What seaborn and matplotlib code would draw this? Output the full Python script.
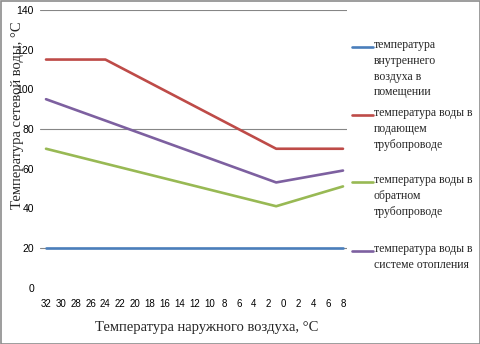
import matplotlib
matplotlib.use("Agg")
import matplotlib.pyplot as plt
from matplotlib.lines import Line2D
from matplotlib.patches import Rectangle
import seaborn as sns
import pandas as pd

# ---- data ----
outdoor_temp = [-32, -24, -1, 8]
indoor_air = [20, 20, 20, 20]
supply_water = [115, 115, 70, 70]
return_water = [70, 62.5, 41, 51]
system_water = [95, 84.2, 53, 59]

series_names = [
    "температура\nвнутреннего\nвоздуха в\nпомещении",
    "температура воды в\nподающем\nтрубопроводе",
    "температура воды в\nобратном\nтрубопроводе",
    "температура воды в\nсистеме отопления",
]
series_values = [indoor_air, supply_water, return_water, system_water]
colors = ["#4A7EBB", "#BE4B48", "#98B954", "#7D60A0"]

x_tick_values = list(range(-32, 9, 2))
x_tick_labels = [str(abs(v)) for v in x_tick_values]
x_minor_marks = [-26.3, -21.4, -19.3, -16.4, -14.4, -11.7, -9.7, -7.7, -6.8,
                 -4.5, -2.7, -2.0, -1.2, -0.4, 2.65, 3.5, 4.5, 5.35, 7.6, 8.5]
y_ticks = list(range(0, 141, 20))
y_grid = [20, 80, 140]

y_label = "Температура сетевой воды, °С"
x_label = "Температура наружного воздуха, °С"

rows = []
for name, vals in zip(series_names, series_values):
    for t, v in zip(outdoor_temp, vals):
        rows.append({"t": t, "v": v, "s": name})
df = pd.DataFrame(rows)

sns.set_style("white")
serif = ["Liberation Serif", "DejaVu Serif"]
sans = ["Liberation Sans", "DejaVu Sans"]
plt.rcParams["font.family"] = sans

fig = plt.figure(figsize=(4.8, 3.44), dpi=100)
W, H = 480.0, 344.0
ax = fig.add_axes([40 / W, 1 - 287.5 / H, 307 / W, 277.5 / H])

for g in y_grid:
    ax.axhline(g, color="#868686", lw=0.8, zorder=1)

sns.lineplot(data=df, x="t", y="v", hue="s", hue_order=series_names,
             palette=colors, legend=False, linewidth=1.9, ax=ax, zorder=3,
             sort=True, estimator=None)

ax.set_xlim(-32.81, 8.54)
ax.set_ylim(0, 140)
for sp in ax.spines.values():
    sp.set_visible(False)
ax.set_xlabel("")
ax.set_ylabel("")

ax.set_yticks(y_ticks)
ax.set_yticklabels([str(v) for v in y_ticks], fontsize=7.5, family=sans)
ax.tick_params(axis="y", length=0, pad=4.3, colors="black")

ax.set_xticks(x_tick_values)
ax.set_xticklabels(x_tick_labels, fontsize=7, family=sans)
ax.set_xticks(x_minor_marks, minor=True)
ax.tick_params(axis="x", which="major", length=0, pad=8.0, colors="black")
ax.tick_params(axis="x", which="minor", length=2.4, width=0.7, color="#868686",
               direction="out")

fig.text(18 / W, 1 - 115 / H, y_label, rotation=90, ha="center", va="center",
         fontsize=10.5, family=serif)
fig.text(206.5 / W, 1 - 327 / H, x_label, ha="center", va="center",
         fontsize=10.5, family=serif)

# legend drawn as entries with equal pitch
entry_y = [47, 115, 182, 251]
for name, col, yc in zip(series_names, colors, entry_y):
    fig.add_artist(Line2D([352 / W, 373 / W], [1 - yc / H, 1 - yc / H],
                          color=col, lw=1.9, transform=fig.transFigure))
    fig.text(374 / W, 1 - (yc - 8.0) / H, name, ha="left", va="top",
             fontsize=8.5, family=serif, linespacing=1.42)

fig.add_artist(Rectangle((0.5 / W, 0.5 / H), 1 - 1 / W, 1 - 1 / H,
                         transform=fig.transFigure, fill=False,
                         edgecolor="#8c8c8c", lw=1.2))

fig.savefig("out.png", dpi=100)
